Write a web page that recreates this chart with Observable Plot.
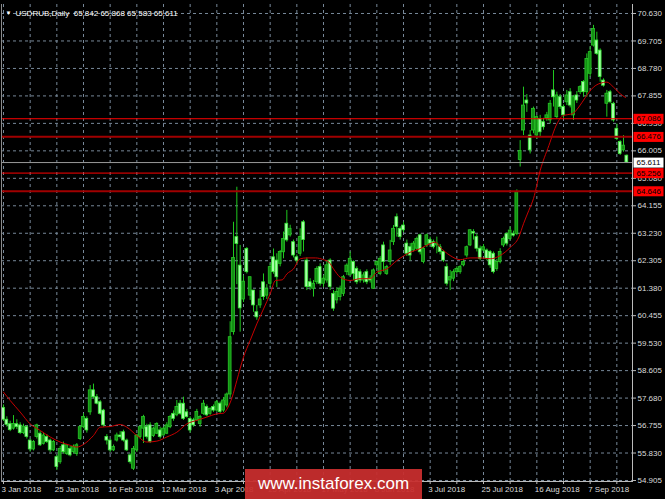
<!DOCTYPE html>
<html><head><meta charset="utf-8">
<script src="https://cdn.jsdelivr.net/npm/d3@7"></script>
<script src="https://cdn.jsdelivr.net/npm/@observablehq/plot@0.6"></script>
<style>
html,body{margin:0;padding:0;background:#000;}
#chart{position:relative;width:665px;height:499px;overflow:hidden;background:#000;}
#wm{position:absolute;left:245px;top:469px;width:177px;height:30px;background:rgba(200,46,46,0.94);color:#fff;font:17px "Liberation Sans",Arial,sans-serif;line-height:30px;text-align:center;}
</style></head><body><div id="chart"><div id="wm">www.instaforex.com</div></div>
<script>
// Daily candles, USDRUB, 3 Jan 2018 .. 24 Sep 2018 (bar index 0..187)
const open = [57.35,56.95,56.80,56.65,56.80,56.76,56.50,56.70,56.25,55.95,56.37,56.48,56.14,56.37,56.25,55.92,55.69,55.52,56.09,55.80,55.97,55.86,55.80,56.30,56.70,56.98,57.20,57.94,57.71,57.54,57.26,56.37,56.25,55.92,56.25,56.42,56.53,56.25,55.75,55.30,55.92,56.37,56.65,56.70,56.76,56.40,56.48,56.59,56.42,56.48,56.70,57.15,57.10,57.49,57.49,57.20,56.98,56.93,56.93,56.81,57.15,57.38,57.15,57.38,57.26,57.49,57.26,57.43,57.80,59.90,63.10,62.14,61.00,62.70,61.13,61.30,60.57,60.80,61.58,61.13,61.53,62.42,62.31,62.20,62.59,63.55,63.16,62.93,62.42,62.54,63.60,62.31,61.58,61.36,61.58,62.09,61.53,61.64,62.31,61.19,60.97,61.08,61.19,61.92,61.81,62.26,62.03,61.92,61.64,61.92,61.70,61.36,62.15,61.86,62.82,61.86,62.26,62.93,63.77,63.38,63.49,62.88,62.76,62.65,62.71,63.16,62.26,62.82,63.00,62.93,62.82,62.76,62.60,62.09,61.64,61.70,61.92,61.92,62.15,62.48,62.82,63.27,63.10,62.71,62.65,62.65,62.60,62.54,62.03,62.26,62.82,63.20,63.04,63.20,63.21,65.70,66.69,67.70,66.52,66.69,66.52,67.08,66.97,67.10,67.03,68.04,67.14,67.81,67.48,67.64,67.98,67.20,67.87,67.98,68.32,67.98,68.60,69.55,69.72,69.38,68.37,67.59,67.98,67.59,66.75,66.30,66.02,65.842];
const high = [57.45,57.05,56.90,57.09,56.95,56.85,56.80,56.75,56.30,56.25,56.80,56.55,56.50,56.45,56.30,56.25,55.75,56.05,56.20,56.12,56.05,56.10,56.15,56.75,57.15,57.05,58.10,58.15,57.80,57.60,57.30,56.45,56.30,56.10,56.50,56.55,56.60,56.30,55.80,56.05,56.45,56.75,57.10,56.80,56.85,56.70,56.85,56.70,56.70,56.85,57.10,57.25,57.60,57.60,57.71,57.30,57.05,57.00,57.30,57.10,57.60,57.45,57.35,57.45,57.60,57.55,57.70,57.85,60.25,63.60,64.78,62.82,61.80,62.75,61.75,61.30,60.80,61.30,61.86,61.50,62.20,62.70,62.54,62.65,63.27,64.00,63.50,63.00,62.50,63.38,63.66,62.40,61.70,61.64,62.10,62.20,61.80,62.30,62.37,61.30,61.40,61.45,61.81,62.20,62.60,62.30,62.10,62.00,61.90,62.00,61.80,62.03,62.30,62.45,62.93,62.15,62.99,63.49,63.88,63.45,63.60,63.00,62.88,62.95,63.10,63.20,62.75,63.20,63.10,63.00,63.10,62.85,62.65,62.20,61.98,62.00,62.10,62.15,62.35,62.80,63.35,63.35,63.20,62.80,62.85,62.70,62.65,62.60,62.35,62.71,63.10,63.25,63.44,63.30,64.69,66.35,68.15,67.90,66.69,67.48,67.20,67.20,67.10,67.30,67.70,68.71,67.98,67.90,67.55,68.04,68.10,67.87,68.00,68.20,68.37,69.27,69.50,70.23,70.00,69.44,68.43,68.04,68.04,67.64,66.91,66.35,66.52,65.868];
const low = [56.90,56.70,56.55,56.60,56.62,56.45,56.45,56.30,55.86,55.90,56.30,56.05,56.10,56.15,55.85,55.88,55.24,55.45,55.80,55.75,55.70,55.80,55.72,56.25,56.65,56.50,57.10,57.65,57.45,57.10,56.70,56.10,55.85,55.88,56.20,56.30,56.20,55.88,55.45,55.24,55.85,56.30,56.15,56.30,56.15,56.35,56.45,56.30,56.40,56.45,56.65,56.90,57.05,57.10,56.93,57.00,56.50,56.70,56.90,56.70,57.10,57.05,57.10,57.20,57.20,57.15,57.20,57.35,57.70,59.80,61.50,59.90,60.90,61.86,60.97,60.57,60.30,60.70,60.97,61.00,61.40,61.85,61.40,62.10,62.37,62.93,63.10,62.40,62.20,62.45,62.60,61.30,61.30,61.08,61.50,61.45,61.40,61.55,61.30,60.60,60.85,60.95,61.10,61.81,61.81,61.64,61.50,61.55,61.55,61.50,61.55,61.36,62.00,61.80,61.92,61.81,62.15,62.82,63.10,63.00,63.25,62.45,62.30,62.60,62.65,62.50,62.20,62.75,62.80,62.70,62.54,62.50,62.25,61.45,61.30,61.60,61.85,61.85,62.10,62.40,62.78,63.00,62.60,62.30,62.60,62.30,62.05,61.86,61.95,62.20,62.75,62.80,62.98,63.10,63.15,65.46,66.52,67.30,65.90,66.58,66.40,66.47,66.70,67.00,66.91,67.48,67.08,67.40,67.10,67.53,67.45,67.03,67.60,67.90,67.81,67.81,68.49,69.50,69.22,68.32,68.15,67.14,67.59,66.97,66.35,65.85,65.96,65.583];
const close = [56.95,56.78,56.60,56.81,56.70,56.50,56.72,56.37,55.95,56.20,56.76,56.09,56.42,56.20,55.92,56.20,55.36,55.97,55.86,56.09,55.75,56.03,56.09,56.70,57.04,56.59,57.94,57.71,57.49,57.15,56.76,56.25,55.92,56.03,56.42,56.37,56.25,55.92,55.52,55.97,56.42,56.70,57.04,56.37,56.20,56.65,56.81,56.37,56.65,56.76,57.04,56.98,57.38,57.15,56.98,57.04,56.59,56.76,57.21,57.04,57.49,57.10,57.32,57.26,57.54,57.21,57.60,57.80,59.73,62.40,62.87,60.70,61.60,61.92,61.75,60.80,60.40,61.00,61.08,61.36,62.09,61.92,61.75,62.60,63.04,62.99,63.38,62.48,62.31,63.10,63.00,61.42,61.42,61.53,62.03,61.53,61.70,62.15,61.42,60.69,61.25,61.36,61.75,62.14,62.37,61.86,61.58,61.64,61.81,61.58,61.64,61.98,62.26,62.37,62.26,62.09,62.65,63.38,63.44,63.10,63.33,62.54,62.48,62.88,63.04,62.59,62.71,63.16,62.88,62.76,62.88,62.60,62.31,61.53,61.75,61.92,62.03,62.09,62.26,62.76,63.33,63.22,62.71,62.37,62.76,62.37,62.15,61.92,62.26,62.60,63.04,62.88,63.32,63.15,64.61,66.00,67.53,67.60,66.02,67.42,67.14,66.63,66.80,67.20,67.59,67.81,67.87,67.48,67.20,67.87,67.53,67.81,67.70,68.15,67.98,69.10,69.33,70.11,69.27,68.49,68.20,67.93,67.64,67.03,66.41,65.90,66.18,65.611];

// Moving average (bar index, value)
const maIdx = [0,2,5,8,11,14,17,20,22,24,27,29,32,35,37,40,43,46,49,52,55,58,61,64,66,67,68.6,70,72,74,76,78,80,81.6,83.6,85,87,89,91,93.6,96,97.6,99,101,104,107,110,112,115,118,122,125,128,129.6,131,134,137,140,143,146,149,152,154.6,156,157.6,159,161,163.6,166,168,170.6,172.6,174.6,177,179,181,183,185,186.6];
const maVal = [57.88,57.60,57.21,56.81,56.59,56.37,56.20,56.09,56.03,56.12,56.42,56.70,56.72,56.79,56.70,56.42,56.20,56.23,56.37,56.53,56.81,56.93,57.04,57.15,57.17,57.30,57.71,58.27,59.06,59.62,60.18,60.68,61.19,61.64,61.66,61.86,62.03,62.37,62.40,62.40,62.34,62.26,62.03,61.75,61.64,61.70,61.70,61.92,62.03,62.31,62.59,62.71,62.88,62.93,62.76,62.48,62.34,62.40,62.40,62.37,62.48,62.75,63.10,63.55,64.00,64.40,65.34,66.18,66.91,67.20,67.25,67.48,67.81,68.15,68.28,68.32,68.15,67.93,67.80];

// Horizontal levels and the current price
const levelVal = [67.086, 66.476, 65.256, 64.646, 65.611];
const levelColor = ["#ff0000", "#a00000", "#ff0000", "#a00000", "#9a9a9a"];
const levelWidth = [1, 2, 1, 2, 1];
const levelBg = ["#ff0000", "#ff0000", "#ff0000", "#ff0000", "#ffffff"];

// Axis ticks
const yTicks = [70.630,69.705,68.780,67.855,66.930,66.005,65.080,64.155,63.230,62.305,61.380,60.455,59.530,58.605,57.680,56.755,55.830,54.905];
const xLabels = ["3 Jan 2018","25 Jan 2018","16 Feb 2018","12 Mar 2018","3 Apr 2018","25 Apr 2018","17 May 2018","8 Jun 2018","3 Jul 2018","25 Jul 2018","16 Aug 2018","7 Sep 2018"];
const xLabelIdx = [0,16,32,48,64,80,96,112,128,144,160,176];
const header = "USDRUB,Daily  65.842 65.868 65.583 65.611";

const bars = close.map((c, i) => ({i, o: open[i], h: high[i], l: low[i], c}));
const ma = maIdx.map((x, k) => ({x, y: maVal[k]}));
const levels = levelVal.map((v, k) => ({v, s: v.toFixed(3), color: levelColor[k], w: levelWidth[k], bg: levelBg[k]}));
const gridIdx = d3.range(0, close.length, 8);
const FONT = "'Liberation Sans', Arial, sans-serif";

const svg = Plot.plot({
  width: 665, height: 499,
  marginLeft: 1, marginRight: 33, marginTop: 4, marginBottom: 18,
  style: {background: "#000", color: "#e4e4e4", fontFamily: FONT, fontSize: "8px", overflow: "visible"},
  x: {type: "linear", domain: [-0.6, 188.7], axis: null},
  y: {domain: [54.871, 70.933], axis: null},
  marks: [
    Plot.gridX(gridIdx, {stroke: "#778899", strokeOpacity: 1, strokeDasharray: "3,3"}),
    Plot.gridY(yTicks, {stroke: "#778899", strokeOpacity: 1, strokeDasharray: "3,3"}),
    Plot.ruleX(bars, {x: "i", y1: "l", y2: "h", stroke: "#1fc81f", strokeWidth: 1}),
    Plot.rect(bars, {
      x1: d => d.i - 0.42, x2: d => d.i + 0.42, y1: "o", y2: "c", inset: 0,
      fill: d => d.c >= d.o ? "#138f13" : "#a6ffa6",
      stroke: d => d.c >= d.o ? "#28c828" : "#36e836", strokeWidth: 0.8
    }),
    Plot.line(ma, {x: "x", y: "y", stroke: "#c80000", strokeWidth: 1, curve: "monotone-x"}),
    Plot.ruleY(levels, {y: "v", stroke: "color", strokeWidth: "w"}),
    Plot.axisY(yTicks, {anchor: "right", tickSize: 3, tickPadding: 2, tickFormat: d => d.toFixed(3), stroke: "#bbbbbb", fill: "#dcdcdc", label: null, fontSize: 8}),
    Plot.axisX(gridIdx, {anchor: "bottom", tickSize: 3, tickFormat: () => "", stroke: "#bbbbbb", label: null}),
    Plot.text(xLabelIdx, {x: d => d, frameAnchor: "bottom", dy: 10, dx: -2, textAnchor: "start", text: (d, k) => xLabels[k], fill: "#dcdcdc", fontSize: 8}),
    Plot.frame({anchor: "right", stroke: "#bbbbbb"}),
    Plot.frame({anchor: "bottom", stroke: "#bbbbbb"}),
    Plot.frame({anchor: "left", stroke: "#8a8a8a"}),
    Plot.text(levels, {y: "v", frameAnchor: "right", dx: 4, textAnchor: "start", text: "s", fill: "#000", fontSize: 8}),
    Plot.text([header], {frameAnchor: "top-left", dx: 14, dy: 6, textAnchor: "start", fill: "#ffffff", fontSize: 8}),
    Plot.text(["▼"], {frameAnchor: "top-left", dx: 4, dy: 6, textAnchor: "start", fill: "#ffffff", fontSize: 6})
  ]
});
const host = document.getElementById("chart");
host.insertBefore(svg, host.firstChild);
svg.style.position = "absolute"; svg.style.left = "0"; svg.style.top = "0";
// label boxes behind the level texts
const byText = new Map(levels.map(l => [l.s, l]));
svg.querySelectorAll("text").forEach(t => {
  const l = byText.get(t.textContent);
  if (!l) return;
  const b = t.getBBox();
  const r = document.createElementNS("http://www.w3.org/2000/svg", "rect");
  r.setAttribute("x", b.x - 3);
  r.setAttribute("y", b.y - 0.5);
  r.setAttribute("width", 30);
  r.setAttribute("height", b.height + 1);
  r.setAttribute("fill", l.bg);
  const tr = t.getAttribute("transform");
  if (tr) r.setAttribute("transform", tr);
  t.parentNode.insertBefore(r, t);
});
</script></body></html>
